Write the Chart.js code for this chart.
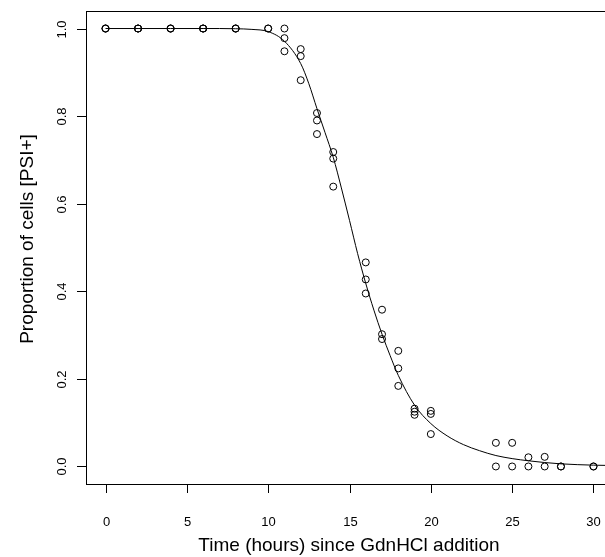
<!DOCTYPE html>
<html>
<head>
<meta charset="utf-8">
<script src="https://cdn.jsdelivr.net/npm/chart.js@4.4.1/dist/chart.umd.min.js"></script>
<style>
  html, body { margin: 0; padding: 0; background: #fff; overflow: hidden; }
  #wrap { width: 605px; height: 557px; overflow: hidden; }
  canvas { display: block; }
</style>
</head>
<body>
<div id="wrap"><canvas id="c" width="630" height="557"></canvas></div>
<script>
"use strict";

// observed proportions (open circles)
const pointX = [0, 0, 0, 2, 2, 2, 4, 4, 4, 6, 6, 6, 8, 8, 8, 10, 10,
  11, 11, 11, 12, 12, 12, 13, 13, 13, 14, 14, 14,
  16, 16, 16, 17, 17, 17, 18, 18, 18, 19, 19, 19, 20, 20, 20,
  24, 24, 25, 25, 26, 26, 27, 27, 28, 28, 30, 30];
const pointY = [1, 1, 1, 1, 1, 1, 1, 1, 1, 1, 1, 1, 1, 1, 1, 1, 1,
  1.0, 0.978, 0.948, 0.953, 0.937, 0.882, 0.807, 0.790, 0.759, 0.718, 0.703, 0.639,
  0.466, 0.427, 0.395, 0.358, 0.302, 0.291, 0.264, 0.224, 0.184, 0.132, 0.125, 0.118,
  0.127, 0.120, 0.074,
  0.054, 0, 0.054, 0, 0.021, 0, 0.022, 0, 0, 0, 0, 0];

// fitted curve
const curveX = [0, 2, 4, 6, 7, 8, 9, 10, 11, 12, 12.5, 13, 13.5, 14, 14.5, 15, 15.5,
  16, 16.5, 17, 17.5, 18, 19, 20, 21, 22, 23, 24, 25, 26, 27, 28, 30, 31.5];
const curveY = [1.0, 1.0, 1.0, 1.0, 1.0, 0.9995, 0.998, 0.993, 0.971, 0.920, 0.874, 0.817,
  0.762, 0.706, 0.636, 0.562, 0.486, 0.418, 0.357, 0.302, 0.253, 0.208, 0.140, 0.098,
  0.070, 0.050, 0.036, 0.025, 0.018, 0.013, 0.009, 0.006, 0.003, 0.002];

const xTicks = [0, 5, 10, 15, 20, 25, 30];
const yTicks = [0, 0.2, 0.4, 0.6, 0.8, 1.0];
const yTickLabels = ["0.0", "0.2", "0.4", "0.6", "0.8", "1.0"];

const xTitle = "Time (hours) since GdnHCl addition";
const yTitle = "Proportion of cells [PSI+]";

const FONT = "'Liberation Sans', Arial, Helvetica, sans-serif";

// R style box, ticks and labels
const baseAxes = {
  id: "baseAxes",
  afterDraw(chart) {
    const { ctx, chartArea: a } = chart;
    const xs = chart.scales.x;
    const ys = chart.scales.y;
    ctx.save();
    ctx.strokeStyle = "#000";
    ctx.lineWidth = 1;
    ctx.strokeRect(a.left + 0.5, a.top + 0.5, a.right - a.left, a.bottom - a.top);

    ctx.fillStyle = "#000";
    ctx.font = "13px " + FONT;
    ctx.textAlign = "center";
    ctx.textBaseline = "middle";
    xTicks.forEach((v) => {
      const px = Math.round(xs.getPixelForValue(v)) + 0.5;
      ctx.beginPath();
      ctx.moveTo(px, a.bottom);
      ctx.lineTo(px, a.bottom + 9);
      ctx.stroke();
      ctx.fillText(String(v), px, a.bottom + 38);
    });

    yTicks.forEach((v, i) => {
      const py = Math.round(ys.getPixelForValue(v)) + 0.5;
      ctx.beginPath();
      ctx.moveTo(a.left - 9, py);
      ctx.lineTo(a.left + 0.5, py);
      ctx.stroke();
      ctx.save();
      ctx.translate(a.left - 24, py);
      ctx.rotate(-Math.PI / 2);
      ctx.fillText(yTickLabels[i], 0, 0);
      ctx.restore();
    });

    ctx.font = "19px " + FONT;
    ctx.fillText(xTitle, 349, 546);
    ctx.save();
    ctx.translate(28, 239);
    ctx.rotate(-Math.PI / 2);
    ctx.fillText(yTitle, 0, 0);
    ctx.restore();
    ctx.restore();
  },
};

const ctx = document.getElementById("c").getContext("2d");

new Chart(ctx, {
  type: "scatter",
  data: {
    datasets: [
      {
        label: "observed",
        data: pointX.map((x, i) => ({ x: x, y: pointY[i] })),
        pointStyle: "circle",
        pointRadius: 3.5,
        pointBorderWidth: 1,
        pointBorderColor: "#000",
        pointBackgroundColor: "rgba(0,0,0,0)",
        showLine: false,
      },
      {
        label: "fit",
        data: curveX.map((x, i) => ({ x: x, y: curveY[i] })),
        showLine: true,
        borderColor: "#000",
        borderWidth: 1,
        pointRadius: 0,
        cubicInterpolationMode: "monotone",
        fill: false,
      },
    ],
  },
  options: {
    responsive: false,
    animation: false,
    events: [],
    layout: { padding: { left: 86, top: 11, right: 17, bottom: 73 } },
    plugins: {
      legend: { display: false },
      tooltip: { enabled: false },
    },
    scales: {
      x: { type: "linear", min: -1.2, max: 31.2, display: false },
      y: { type: "linear", min: -0.04, max: 1.04, display: false },
    },
  },
  plugins: [baseAxes],
});
</script>
</body>
</html>
